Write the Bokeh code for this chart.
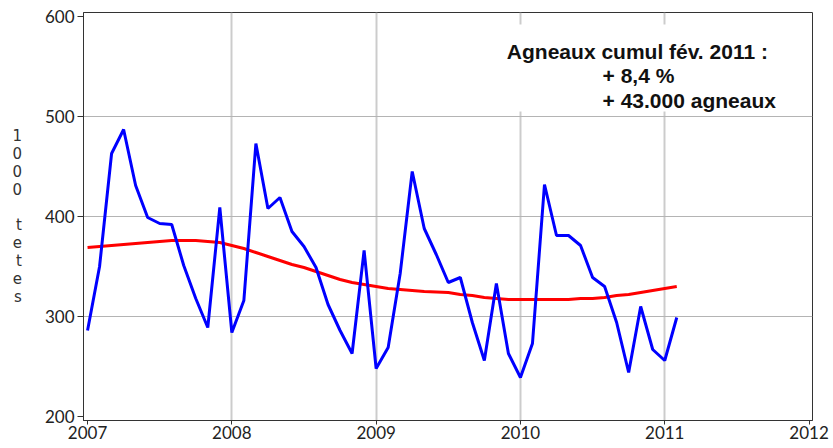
import numpy as np
from bokeh.plotting import figure
from bokeh.models import Range1d, FixedTicker, BoxAnnotation, Label, ColumnDataSource
from bokeh.embed import file_html
from bokeh.resources import INLINE

# Monthly data, Jan 2007 .. Feb 2011 (1000 tetes)
month_index = list(range(50))
agneaux = [286, 350, 463, 487, 431, 399, 393, 392, 351, 318, 289, 409,
           284, 316, 473, 408, 419, 385, 370, 349, 312, 286, 263, 366,
           248, 269, 343, 445, 388, 362, 334, 339, 294, 256, 333, 263,
           239, 273, 432, 381, 381, 371, 339, 330, 294, 244, 310, 267,
           256, 299]
tendance = [369, 370, 371, 372, 373, 374, 375, 376, 376, 376, 375, 374,
            371, 368, 364, 360, 356, 352, 349, 345, 341, 337, 334, 332,
            330, 328, 327, 326, 325, 324.5, 324, 322, 321, 319, 318, 317,
            317, 317, 317, 317, 317, 318, 318, 319, 321, 322, 324, 326,
            328, 330]
x_years = [2007, 2008, 2009, 2010, 2011, 2012]
y_ticks = [200, 300, 400, 500, 600]
ylabel_chars = ["1", "0", "0", "0", "", "t", "e", "t", "e", "s"]
note_lines = ["Agneaux cumul fév. 2011 :", "+ 8,4 %", "+ 43.000 agneaux"]

x = [2007 + m / 12 for m in month_index]
src = ColumnDataSource(dict(x=x, a=agneaux, t=tendance))

p = figure(width=833, height=448, output_backend="svg", toolbar_location=None,
           x_range=Range1d(2006.972, 2012.024), y_range=Range1d(196, 604),
           min_border_left=83, min_border_right=21, min_border_top=12, min_border_bottom=28)
p.background_fill_color = "white"
p.border_fill_color = "white"
p.outline_line_color = "#333333"
p.outline_line_width = 1

tick_font = "Lato"
for ax in (p.xaxis[0], p.yaxis[0]):
    ax.axis_line_color = "#333333"
    ax.major_tick_line_color = "#333333"
    ax.minor_tick_line_color = None
    ax.major_tick_in = 0
    ax.major_label_text_font = tick_font
    ax.major_label_text_font_size = "17px"
    ax.major_label_text_color = "#222222"
p.xaxis.ticker = FixedTicker(ticks=x_years)
p.yaxis.ticker = FixedTicker(ticks=y_ticks)
p.xaxis.major_tick_out = 4
p.xaxis.major_label_standoff = 1
p.yaxis.major_tick_out = 6
p.yaxis.major_label_standoff = 3

# stacked y-axis label "1000 tetes"
p.yaxis.axis_label = "\n".join(ylabel_chars)
p.yaxis.axis_label_text_font = "DejaVu Sans"
p.yaxis.axis_label_text_font_size = "15px"
p.yaxis.axis_label_text_font_style = "normal"
p.yaxis.axis_label_text_color = "#333333"
p.yaxis.axis_label_text_line_height = 0.99
p.yaxis.axis_label_standoff = 20
try:
    p.yaxis.axis_label_orientation = "horizontal"
except Exception:
    pass

p.xgrid.ticker = FixedTicker(ticks=x_years[1:5])
p.ygrid.ticker = FixedTicker(ticks=y_ticks[1:4])
p.xgrid.grid_line_color = "#cccccc"
p.xgrid.grid_line_width = 2
p.ygrid.grid_line_color = "#b4b4b4"
p.ygrid.grid_line_width = 1

p.line("x", "t", source=src, line_color="#ff0000", line_width=3)
p.line("x", "a", source=src, line_color="#0000ff", line_width=3)

# white box behind the note
p.add_layout(BoxAnnotation(left=2009.86, right=2011.91, bottom=505, top=592,
                           fill_color="white", fill_alpha=1, line_color=None))
note_x = [2009.906, 2010.569, 2010.569]
note_y = [565, 541, 516]
for txt, nx, ny in zip(note_lines, note_x, note_y):
    p.add_layout(Label(x=nx, y=ny, text=txt, text_font="Liberation Sans",
                       text_font_style="bold", text_font_size="21px",
                       text_color="#111111", text_baseline="alphabetic"))

open("out.html", "w").write(file_html(p, INLINE))
